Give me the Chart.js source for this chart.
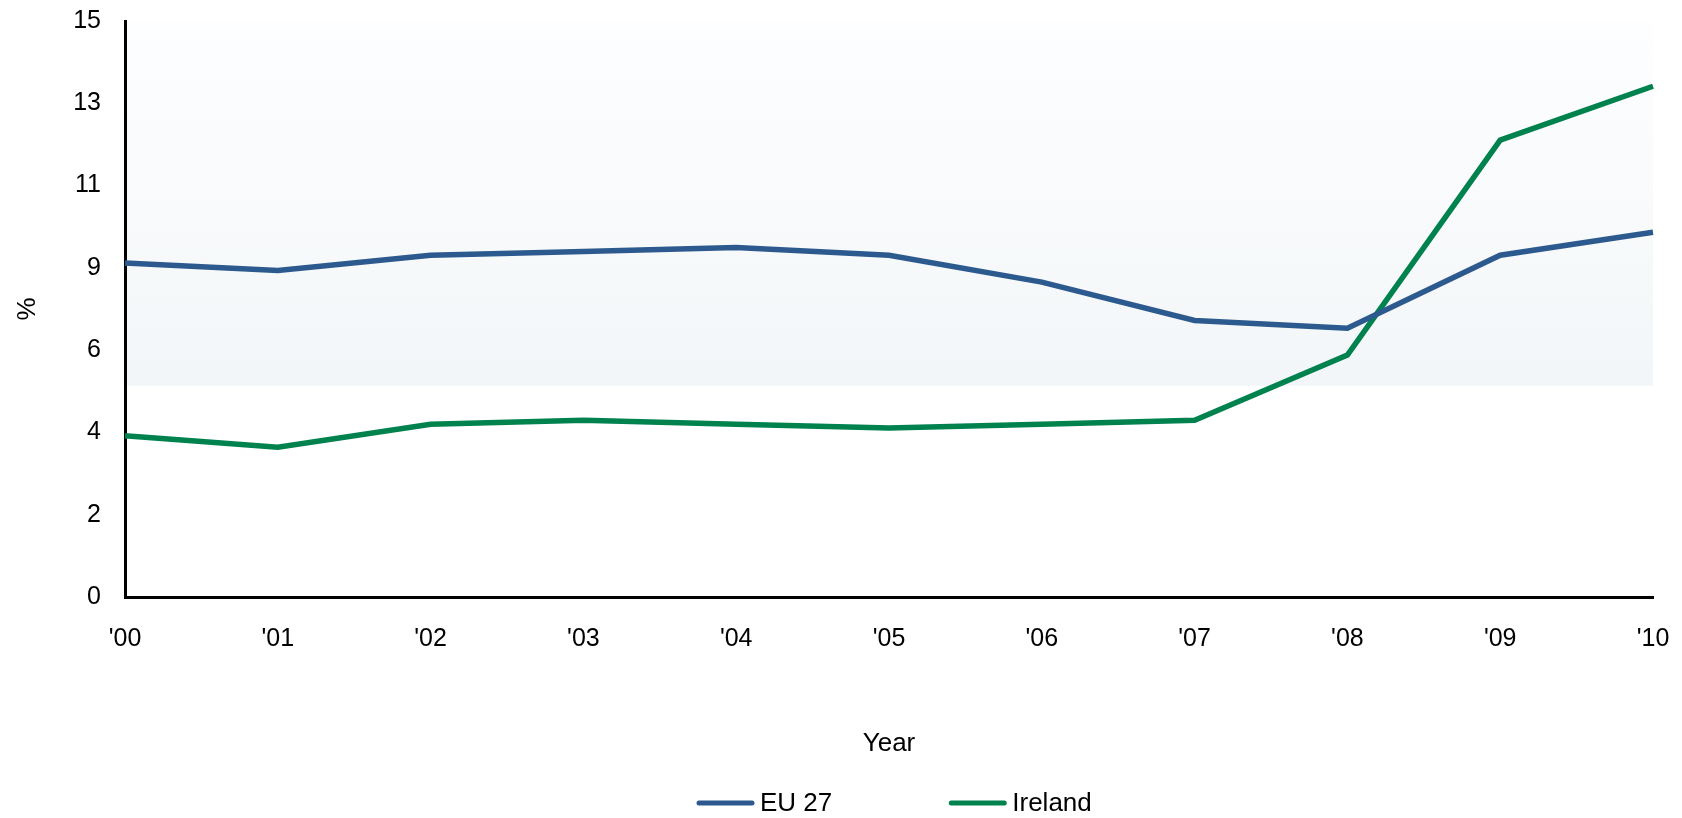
<!DOCTYPE html>
<html>
<head>
<meta charset="utf-8">
<script src="https://cdn.jsdelivr.net/npm/chart.js@4.4.0/dist/chart.umd.min.js"></script>
<style>
    html, body { margin: 0; padding: 0; background: #fff; }
</style>
</head>
<body>
<canvas id="unemploymentChart" width="1682" height="818"></canvas>
<script>
// data (unemployment rate, %)
const years = ["'00", "'01", "'02", "'03", "'04", "'05", "'06", "'07", "'08", "'09", "'10"];
const eu27 = [8.7, 8.5, 8.9, 9.0, 9.1, 8.9, 8.2, 7.2, 7.0, 8.9, 9.5];
const ireland = [4.2, 3.9, 4.5, 4.6, 4.5, 4.4, 4.5, 4.6, 6.3, 11.9, 13.3];
const yTickLabels = ['0', '2', '4', '6', '9', '11', '13', '15'];

Chart.defaults.font.family = '"Liberation Sans", Arial, sans-serif';
Chart.defaults.color = '#000';

// light shaded band behind the upper part of the plot
const bandShade = {
    id: 'bandShade',
    beforeDraw(chart, args, opts) {
        const { ctx, chartArea: a, scales: { y } } = chart;
        const bottom = y.getPixelForValue(opts.floor);
        const g = ctx.createLinearGradient(0, a.top, 0, bottom);
        g.addColorStop(0, '#fdfeff');
        g.addColorStop(1, '#f3f6f8');
        ctx.save();
        ctx.fillStyle = g;
        ctx.fillRect(a.left, a.top, a.right - a.left, bottom - a.top);
        ctx.restore();
    }
};

// legend with line samples, drawn under the axis title
const lineLegend = {
    id: 'lineLegend',
    afterDraw(chart) {
        const ctx = chart.ctx;
        const sample = 57, gapText = 6, gapItem = 117, y = 803;
        ctx.save();
        ctx.font = '26px "Liberation Sans", Arial, sans-serif';
        let x = 697;
        chart.data.datasets.forEach(ds => {
            ctx.strokeStyle = ds.borderColor;
            ctx.lineWidth = 5;
            ctx.lineCap = 'round';
            ctx.beginPath();
            ctx.moveTo(x + 2, y);
            ctx.lineTo(x + sample - 2, y);
            ctx.stroke();
            ctx.fillStyle = '#000';
            ctx.textBaseline = 'middle';
            ctx.textAlign = 'left';
            ctx.fillText(ds.label, x + sample + gapText, y + 1);
            x += sample + gapText + ctx.measureText(ds.label).width + gapItem;
        });
        ctx.restore();
    }
};

new Chart(document.getElementById('unemploymentChart'), {
    type: 'line',
    data: {
        labels: years,
        datasets: [
            { label: 'EU 27', data: eu27, borderColor: '#2d5a8e', backgroundColor: '#2d5a8e' },
            { label: 'Ireland', data: ireland, borderColor: '#00824f', backgroundColor: '#00824f' }
        ]
    },
    options: {
        responsive: false,
        animation: false,
        devicePixelRatio: 1,
        layout: { padding: { top: 21, right: 29, bottom: 50, left: 0 } },
        elements: {
            point: { radius: 0 },
            line: { borderWidth: 5.5, tension: 0 }
        },
        plugins: {
            legend: { display: false },
            tooltip: { enabled: false },
            bandShade: { floor: 5.5 }
        },
        scales: {
            x: {
                offset: false,
                grid: { display: false },
                border: { color: '#000', width: 3 },
                ticks: { font: { size: 25 }, padding: 19, maxRotation: 0, autoSkip: false },
                title: { display: true, text: 'Year', font: { size: 26 }, padding: { top: 0, bottom: 9 } },
                afterFit(s) { s.height = 171; s.paddingLeft = 0; s.paddingRight = 0; }
            },
            y: {
                min: 0,
                max: 15,
                grid: { display: false },
                border: { color: '#000', width: 3 },
                ticks: {
                    count: 8,
                    padding: 16,
                    font: { size: 25 },
                    callback: (v, i) => yTickLabels[i]
                },
                title: { display: true, text: '%', font: { size: 26 }, padding: { top: 12, bottom: 0 } },
                afterFit(s) { s.width = 125; s.paddingTop = 0; s.paddingBottom = 0; }
            }
        }
    },
    plugins: [bandShade, lineLegend]
});
</script>
</body>
</html>
